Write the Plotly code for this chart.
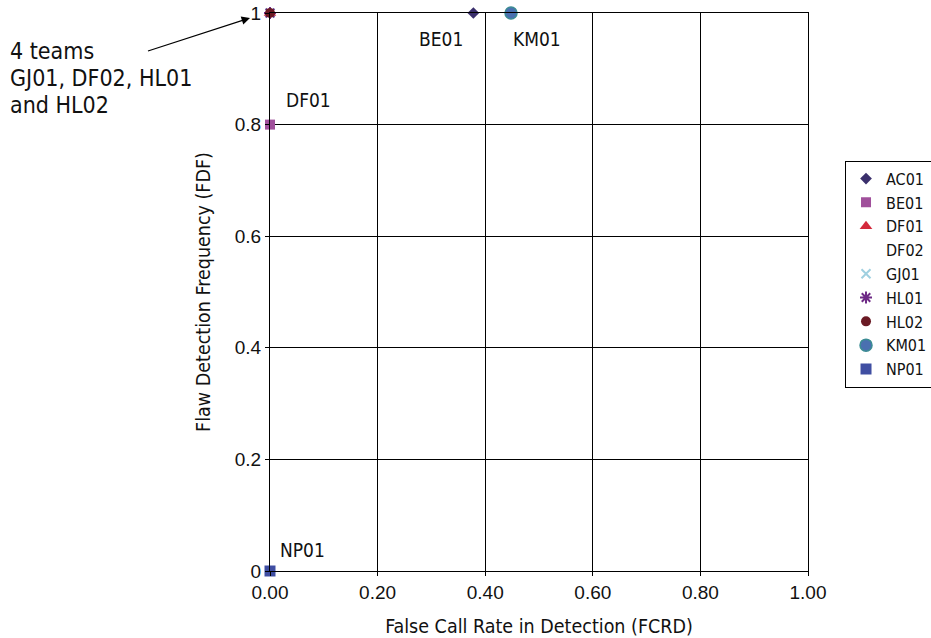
import plotly.graph_objects as go

# Data
series = ["AC01", "BE01", "DF01", "DF02", "GJ01", "HL01", "HL02", "KM01", "NP01"]
fcrd = [0.378, 0.0, 0.0, 0.0, 0.0, 0.0, 0.0, 0.448, 0.0]
fdf = [1.0, 0.8, 1.0, 1.0, 1.0, 1.0, 1.0, 1.0, 0.0]
symbols = ["diamond", "square", "triangle-up", "x-thin", "x-thin", "asterisk", "circle", "circle", "square"]
colors = ["#3a2f6c", "#a0509b", "#d42a3c", "rgba(0,0,0,0)", "#9fd0e0", "#6e2a86", "#6a1a24", "#4a70b0", "#3f4ea2"]
sizes = [9, 10, 11, 9, 9, 10, 10, 12, 11]

# Point labels (as shown in the chart)
label_text = ["BE01", "KM01", "DF01", "NP01"]
label_x = [0.378, 0.448, 0.0, 0.0]
label_y = [1.0, 1.0, 0.8, 0.0]
label_dx = [-32, 26, 38, 32]
label_dy = [-26, -26, 25, 21]

# Callout text lines
callout_lines = ["4 teams", "GJ01, DF02, HL01", "and HL02"]

x_ticks = [0, 0.2, 0.4, 0.6, 0.8, 1.0]
x_ticklabels = ["0.00", "0.20", "0.40", "0.60", "0.80", "1.00"]
y_ticks = [0, 0.2, 0.4, 0.6, 0.8, 1.0]
y_ticklabels = ["0", "0.2", "0.4", "0.6", "0.8", "1"]

FONT = "DejaVu Sans Condensed, Liberation Sans Narrow, Liberation Sans, sans-serif"
TICKFONT = "Liberation Sans, Arial, sans-serif"

fig = go.Figure()
for name, x, y, s, c, sz in zip(series, fcrd, fdf, symbols, colors, sizes):
    line_w = 2 if s in ("x-thin", "asterisk") else 0
    line_c = c
    if name == "KM01":
        line_w = 1.5
        line_c = "#3c8c94"
    fig.add_trace(go.Scatter(
        x=[x], y=[y], mode="markers", name=name,
        marker=dict(symbol=s, color=c, size=sz, line=dict(width=line_w, color=line_c)),
        cliponaxis=False, showlegend=True,
    ))

for t, x, y, dx, dy in zip(label_text, label_x, label_y, label_dx, label_dy):
    fig.add_annotation(x=x, y=y, xref="x", yref="y", text=t, showarrow=False,
                       xshift=dx, yshift=dy, font=dict(family=FONT, size=19, color="#111"))

# Arrow annotation (paper coords so it is not hidden outside the axis range)
fig.add_annotation(x=-0.0372, y=0.991, xref="paper", yref="paper", text=" ", showarrow=True,
                   ax=-105, ay=34, axref="pixel", ayref="pixel",
                   arrowhead=2, arrowsize=1.4, arrowwidth=1.2, arrowcolor="#000",
                   standoff=0, startstandoff=0)
for i, line in enumerate(callout_lines):
    fig.add_annotation(x=-0.487, y=(571 - 50.5) / 558, xref="paper", yref="paper",
                       yshift=-27 * i, text=line, showarrow=False,
                       xanchor="left", yanchor="middle", align="left",
                       font=dict(family=FONT, size=23, color="#111"))

axis_common = dict(showgrid=True, gridcolor="#000", gridwidth=1, zeroline=False,
                   showline=True, linecolor="#000", linewidth=1, mirror=True,
                   ticks="outside", ticklen=4, tickcolor="#000", automargin=False,
                   tickfont=dict(family=TICKFONT, size=19, color="#111"))

fig.update_xaxes(range=[0, 1], tickvals=x_ticks, ticktext=x_ticklabels,
                 title=dict(text="False Call Rate in Detection (FCRD)", font=dict(family=FONT, size=19.5, color="#111"), standoff=19),
                 **axis_common)
fig.update_yaxes(range=[0, 1], tickvals=y_ticks, ticktext=y_ticklabels,
                 title=dict(text="Flaw Detection Frequency (FDF)", font=dict(family=FONT, size=19.5, color="#111"), standoff=18),
                 **axis_common)

fig.update_layout(
    width=931, height=638,
    margin=dict(l=270, r=123, t=13, b=67, autoexpand=False),
    plot_bgcolor="white", paper_bgcolor="white",
    font=dict(family=FONT, color="#111"),
    legend=dict(x=1.0688, y=0.532, xanchor="left", yanchor="middle",
                bordercolor="#000", borderwidth=1, bgcolor="white",
                font=dict(family=FONT, size=16, color="#111"),
                itemwidth=30, tracegroupgap=0),
)

fig.write_html("out.html")
